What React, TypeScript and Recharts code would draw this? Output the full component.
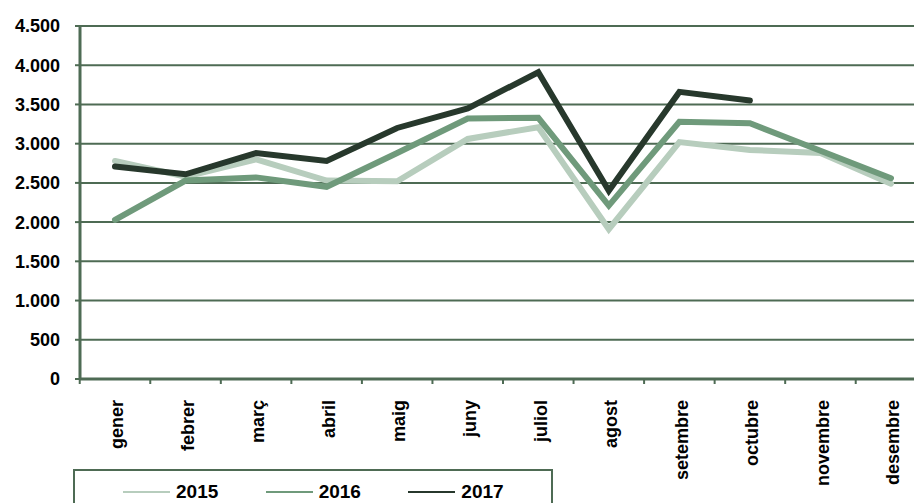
import { LineChart, Line, XAxis, YAxis, CartesianGrid } from "recharts";

const MONTHS = [
  "gener",
  "febrer",
  "març",
  "abril",
  "maig",
  "juny",
  "juliol",
  "agost",
  "setembre",
  "octubre",
  "novembre",
  "desembre",
];
const V2015 = [2780, 2580, 2800, 2530, 2520, 3060, 3210, 1910, 3020, 2920, 2880, 2490];
const V2016 = [2030, 2530, 2570, 2450, 2880, 3320, 3330, 2210, 3280, 3260, 2910, 2560];
const V2017 = [2710, 2610, 2880, 2780, 3200, 3450, 3910, 2400, 3660, 3550, null, null];
const Y_TICKS = [0, 500, 1000, 1500, 2000, 2500, 3000, 3500, 4000, 4500];

const SERIES = [
  { key: "y2015", name: "2015", color: "#b7cdbd" },
  { key: "y2016", name: "2016", color: "#6f9a7b" },
  { key: "y2017", name: "2017", color: "#27382c" },
];

const data = MONTHS.map((m, i) => ({
  month: m,
  y2015: V2015[i],
  y2016: V2016[i],
  y2017: V2017[i],
}));

const AXIS = "#4e6b54";
const FONT = "'Liberation Sans', Arial, sans-serif";

const CHART_W = 926;
const CHART_H = 503;
const Y_W = 80;
const PAD = 35;
const HALF = (CHART_W - Y_W - 2 * PAD) / (MONTHS.length - 1) / 2;

const fmt = (v: number) => v.toLocaleString("de-DE");

function MonthTick(props: any) {
  const { x, y, payload, index } = props;
  const last = index === MONTHS.length - 1;
  return (
    <g>
      <line x1={x - HALF} x2={x - HALF} y1={y} y2={y + 5} stroke={AXIS} strokeWidth={2} />
      {last && (
        <line x1={x + HALF} x2={x + HALF} y1={y} y2={y + 5} stroke={AXIS} strokeWidth={2} />
      )}
      <text
        transform={`translate(${x + 2}, ${y + 21}) rotate(-90)`}
        textAnchor="end"
        dy="0.35em"
        fontFamily={FONT}
        fontWeight={700}
        fontSize={18}
        fill="#000"
      >
        {payload.value}
      </text>
    </g>
  );
}

export default function App() {
  return (
    <div
      style={{
        position: "fixed",
        left: 0,
        top: 0,
        width: 914,
        height: 503,
        overflow: "hidden",
        background: "#fff",
      }}
    >
      <LineChart
        width={CHART_W}
        height={CHART_H}
        data={data}
        margin={{ top: 26, right: 0, bottom: 0, left: 0 }}
      >
        <CartesianGrid vertical={false} stroke={AXIS} strokeWidth={2} />
        <XAxis
          dataKey="month"
          height={124}
          padding={{ left: PAD, right: PAD }}
          interval={0}
          tickSize={0}
          tickMargin={0}
          tickLine={false}
          axisLine={{ stroke: AXIS, strokeWidth: 3 }}
          tick={<MonthTick />}
        />
        <YAxis
          width={Y_W}
          domain={[0, 4500]}
          ticks={Y_TICKS}
          interval={0}
          tickSize={5}
          tickMargin={15}
          tickFormatter={fmt}
          tickLine={{ stroke: AXIS, strokeWidth: 2 }}
          axisLine={{ stroke: AXIS, strokeWidth: 3 }}
          tick={{ fill: "#000", fontFamily: FONT, fontWeight: 700, fontSize: 18 }}
        />
        {SERIES.map((s) => (
          <Line
            key={s.key}
            dataKey={s.key}
            name={s.name}
            stroke={s.color}
            strokeWidth={6}
            strokeLinecap="round"
            dot={false}
            activeDot={false}
            isAnimationActive={false}
          />
        ))}
      </LineChart>
      <div
        style={{
          position: "absolute",
          left: 73,
          top: 469,
          width: 480,
          height: 50,
          border: `2px solid ${AXIS}`,
          display: "flex",
          alignItems: "flex-start",
          paddingLeft: 48,
          paddingTop: 10,
          boxSizing: "border-box",
          fontFamily: FONT,
          fontWeight: 700,
          fontSize: 19,
        }}
      >
        {SERIES.map((s) => (
          <div key={s.key} style={{ display: "flex", alignItems: "center", width: 147 }}>
            <div style={{ width: 47, height: 2, background: s.color, marginRight: 6 }} />
            <span>{s.name}</span>
          </div>
        ))}
      </div>
    </div>
  );
}
